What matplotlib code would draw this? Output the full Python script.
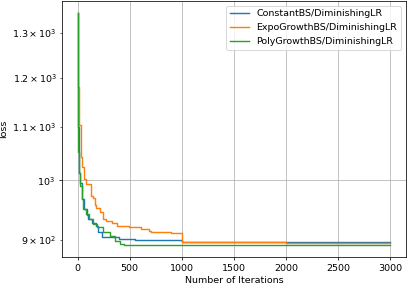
import numpy as np
import matplotlib.pyplot as plt

# Step breakpoints: (iteration, loss)
const_iters = [0, 5, 10, 15, 25, 40, 60, 90, 100, 140, 180, 200, 235, 400, 550, 1000, 1100, 3000]
const_loss = [1347, 1100, 1038, 1014, 996, 967, 950, 940, 933, 927, 922, 912, 904, 902, 899, 897, 896, 896]

expo_iters = [0, 3, 6, 10, 15, 35, 45, 60, 77, 134, 153, 163, 182, 211, 240, 278, 326, 383, 498,
              613, 690, 709, 900, 1000, 1170, 2000, 3000]
expo_loss = [1347, 1250, 1180, 1130, 1104, 1043, 1025, 1002, 993, 972, 970, 958, 953, 945, 933, 930,
             928, 922, 920, 917, 914, 912, 911, 896, 896, 895, 895]

poly_iters = [0, 3, 8, 10, 20, 40, 50, 86, 115, 144, 190, 240, 307, 355, 403, 450, 3000]
poly_loss = [1347, 1100, 1051, 1014, 990, 967, 950, 942, 933, 925, 920, 912, 906, 898, 893, 891, 891]

labels = ["ConstantBS/DiminishingLR", "ExpoGrowthBS/DiminishingLR", "PolyGrowthBS/DiminishingLR"]

dpi = 68
fig, ax = plt.subplots(figsize=(407 / dpi, 285 / dpi), dpi=dpi)
fig.subplots_adjust(left=0.152, right=0.9975, bottom=0.098, top=0.9965)

ax.plot(const_iters, const_loss, drawstyle="steps-post", label=labels[0])
ax.plot(expo_iters, expo_loss, drawstyle="steps-post", label=labels[1])
ax.plot(poly_iters, poly_loss, drawstyle="steps-post", label=labels[2])

ax.set_yscale("log")
ax.set_xlabel("Number of Iterations")
ax.set_ylabel("loss")
ax.grid(True)
ax.legend(loc="upper right")

plt.savefig("out.png", dpi=dpi)
plt.close()
